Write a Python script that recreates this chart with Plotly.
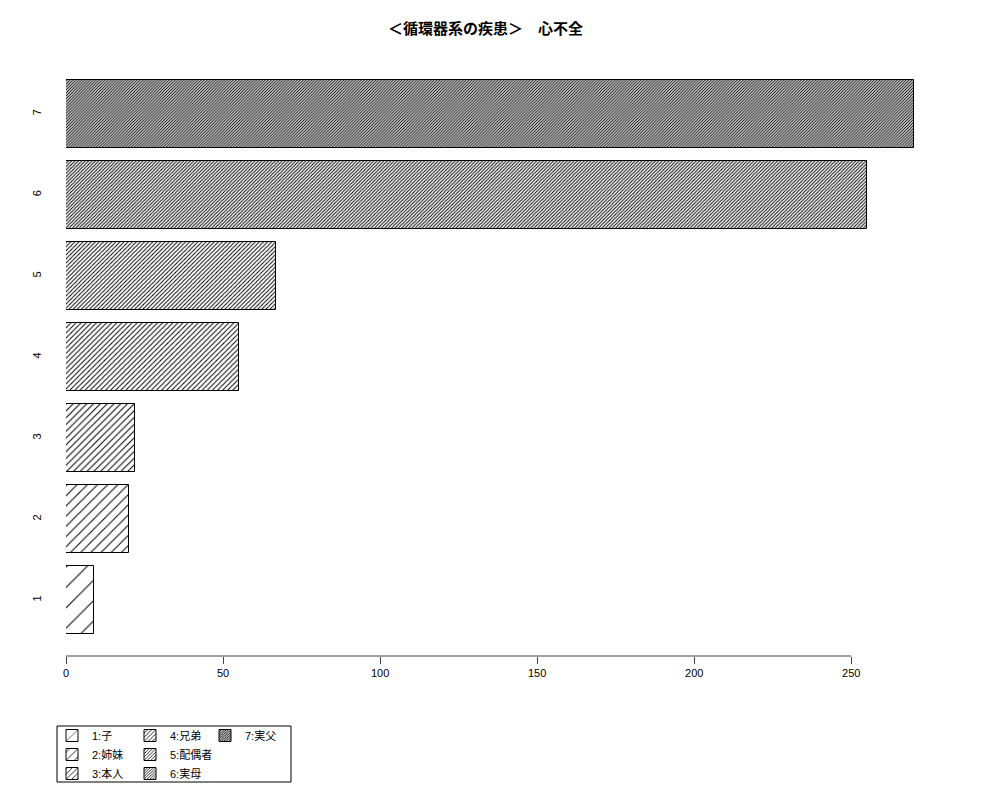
import plotly.graph_objects as go

# values
categories = ["1", "2", "3", "4", "5", "6", "7"]
counts = [9, 20, 22, 55, 67, 255, 270]
legend_labels = ["1:子", "2:姉妹", "3:本人", "4:兄弟", "5:配偶者", "6:実母", "7:実父"]
x_ticks = [0, 50, 100, 150, 200, 250]

title_text = "＜循環器系の疾患＞　心不全"

# hatch spacing per bar in px (R density 5,10,...,35 lines/inch at 72 dpi)
hatch_size = [14.4, 7.2, 4.8, 3.6, 2.9, 2.4, 2.06]
legend_of = ["legend", "legend", "legend", "legend2", "legend2", "legend2", "legend3"]

FONT = "Liberation Sans, Noto Sans CJK JP, sans-serif"
OFF = 8  # the browser puts an 8px body margin round the figure

fig = go.Figure()

for i, cat in enumerate(categories):
    size = hatch_size[i]
    fig.add_trace(go.Bar(
        x=[counts[i]],
        y=[cat],
        orientation='h',
        width=1 / 1.2,
        name=legend_labels[i],
        legend=legend_of[i],
        marker=dict(
            color='white',
            line=dict(color='black', width=1),
            pattern=dict(shape='/', size=size, solidity=min(0.5, 1.0 / size),
                         fgcolor='black', bgcolor='white', fillmode='replace'),
        ),
        hoverinfo='x+name',
    ))

legend_common = dict(
    xref='container', yref='container',
    xanchor='left', yanchor='top',
    orientation='v',
    bgcolor='rgba(0,0,0,0)',
    borderwidth=0,
    font=dict(family=FONT, size=11, color='black'),
    itemwidth=30,
    tracegroupgap=0,
    traceorder='normal',
)

# plot area in screen px: x 66..948, y 58..656
fig.update_layout(
    width=1000,
    height=800,
    margin=dict(l=66 - OFF, r=52 + OFF, t=58 - OFF, b=144 + OFF, autoexpand=False),
    paper_bgcolor='white',
    plot_bgcolor='white',
    font=dict(family=FONT, size=11, color='black'),
    title=dict(
        text=f"<b>{title_text}</b>",
        x=0.4775, xref='container', xanchor='center',
        y=1 - 21 / 800, yref='container', yanchor='middle',
        font=dict(family="Noto Sans CJK JP, Liberation Sans", size=15, color='black'),
    ),
    xaxis=dict(
        range=[0, 280.8],
        tickvals=x_ticks,
        ticks='outside',
        ticklen=7,
        tickcolor='#444',
        showline=False,
        showgrid=False,
        zeroline=False,
        automargin=False,
        tickfont=dict(size=11),
    ),
    yaxis=dict(
        type='category',
        categoryorder='array',
        categoryarray=categories,
        range=[-0.69, 6.69],
        ticks='',
        tickangle=-90,
        ticklabelstandoff=22,
        showline=False,
        showgrid=False,
        zeroline=False,
        automargin=False,
        tickfont=dict(size=11),
    ),
    legend=dict(x=44 / 1000, y=1 - 713 / 800, **legend_common),
    legend2=dict(x=122 / 1000, y=1 - 713 / 800, **legend_common),
    legend3=dict(x=197 / 1000, y=1 - 713 / 800, **legend_common),
    showlegend=True,
    bargap=0,
)

# axis line only spans the tick range, as in the original
fig.add_shape(type='line', xref='x', yref='paper', x0=x_ticks[0], x1=x_ticks[-1], y0=0, y1=0,
              line=dict(color='#444', width=1))
# box around the three legend columns
fig.add_shape(type='rect', xref='paper', yref='paper',
              x0=(57 - 66) / 882, x1=(291 - 66) / 882,
              y0=(656 - 782) / 598, y1=(656 - 726) / 598,
              line=dict(color='black', width=1))

fig.write_html("out.html")
